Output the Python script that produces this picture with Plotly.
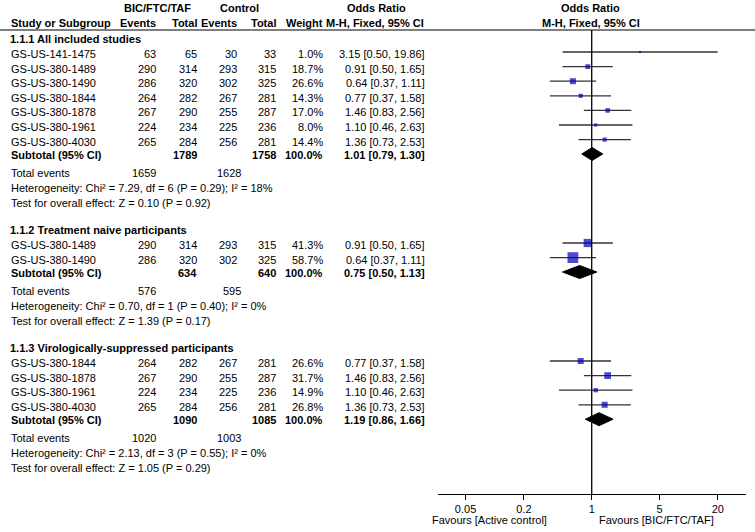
import math
import plotly.graph_objects as go

# ---------------- data ----------------
group_titles = ["1.1.1 All included studies",
                "1.1.2 Treatment naive participants",
                "1.1.3 Virologically-suppressed participants"]

g1_names = ["GS-US-141-1475", "GS-US-380-1489", "GS-US-380-1490", "GS-US-380-1844",
            "GS-US-380-1878", "GS-US-380-1961", "GS-US-380-4030"]
g1_bic_events = [63, 290, 286, 264, 267, 224, 265]
g1_bic_total = [65, 314, 320, 282, 290, 234, 284]
g1_ctl_events = [30, 293, 302, 267, 255, 225, 256]
g1_ctl_total = [33, 315, 325, 281, 287, 236, 281]
g1_weight = [1.0, 18.7, 26.6, 14.3, 17.0, 8.0, 14.4]
g1_or = [3.15, 0.91, 0.64, 0.77, 1.46, 1.10, 1.36]
g1_lo = [0.50, 0.50, 0.37, 0.37, 0.83, 0.46, 0.73]
g1_hi = [19.86, 1.65, 1.11, 1.58, 2.56, 2.63, 2.53]

g2_names = ["GS-US-380-1489", "GS-US-380-1490"]
g2_bic_events = [290, 286]
g2_bic_total = [314, 320]
g2_ctl_events = [293, 302]
g2_ctl_total = [315, 325]
g2_weight = [41.3, 58.7]
g2_or = [0.91, 0.64]
g2_lo = [0.50, 0.37]
g2_hi = [1.65, 1.11]

g3_names = ["GS-US-380-1844", "GS-US-380-1878", "GS-US-380-1961", "GS-US-380-4030"]
g3_bic_events = [264, 267, 224, 265]
g3_bic_total = [282, 290, 234, 284]
g3_ctl_events = [267, 255, 225, 256]
g3_ctl_total = [281, 287, 236, 281]
g3_weight = [26.6, 31.7, 14.9, 26.8]
g3_or = [0.77, 1.46, 1.10, 1.36]
g3_lo = [0.37, 0.83, 0.46, 0.73]
g3_hi = [1.58, 2.56, 2.63, 2.53]

sub_bic_total = [1789, 634, 1090]
sub_ctl_total = [1758, 640, 1085]
sub_or = [1.01, 0.75, 1.19]
sub_lo = [0.79, 0.50, 0.86]
sub_hi = [1.30, 1.13, 1.66]
tot_bic_events = [1659, 576, 1020]
tot_ctl_events = [1628, 595, 1003]
het_text = ["Heterogeneity: Chi² = 7.29, df = 6 (P = 0.29); I² = 18%",
            "Heterogeneity: Chi² = 0.70, df = 1 (P = 0.40); I² = 0%",
            "Heterogeneity: Chi² = 2.13, df = 3 (P = 0.55); I² = 0%"]
test_text = ["Test for overall effect: Z = 0.10 (P = 0.92)",
             "Test for overall effect: Z = 1.39 (P = 0.17)",
             "Test for overall effect: Z = 1.05 (P = 0.29)"]

tick_vals = [0.05, 0.2, 1, 5, 20]
tick_labels = ["0.05", "0.2", "1", "5", "20"]

groups = [
    dict(names=g1_names, be=g1_bic_events, bt=g1_bic_total, ce=g1_ctl_events, ct=g1_ctl_total,
         w=g1_weight, orr=g1_or, lo=g1_lo, hi=g1_hi),
    dict(names=g2_names, be=g2_bic_events, bt=g2_bic_total, ce=g2_ctl_events, ct=g2_ctl_total,
         w=g2_weight, orr=g2_or, lo=g2_lo, hi=g2_hi),
    dict(names=g3_names, be=g3_bic_events, bt=g3_bic_total, ce=g3_ctl_events, ct=g3_ctl_total,
         w=g3_weight, orr=g3_or, lo=g3_lo, hi=g3_hi),
]

# ---------------- layout constants (pixels) ----------------
W, H = 755, 532
AXIS_Y = 494
FONT = "Liberation Sans, Arial, sans-serif"
FS = 11
X_NAME, X_BE, X_BT, X_CE, X_CT, X_W, X_OR = 9, 158, 199, 239, 278, 325, 427
X_TOT_CE = 243

ann = []


def px(x):
    return x / W


def txt(x, y, s, anchor="left", bold=False):
    ann.append(dict(x=px(x), y=y, xref="paper", yref="y", text=f"<b>{s}</b>" if bold else s,
                    xanchor=anchor, yanchor="middle", showarrow=False,
                    font=dict(family=FONT, size=FS, color="#000")))


# headers
txt(157, 8, "BIC/FTC/TAF", "center", True)
txt(239, 8, "Control", "center", True)
txt(376, 8, "Odds Ratio", "center", True)
txt(590, 8, "Odds Ratio", "center", True)
txt(X_NAME, 23, "Study or Subgroup", "left", True)
txt(X_BE, 23, "Events", "right", True)
txt(X_BT, 23, "Total", "right", True)
txt(X_CE, 23, "Events", "right", True)
txt(X_CT, 23, "Total", "right", True)
txt(X_W, 23, "Weight", "right", True)
txt(426, 23, "M-H, Fixed, 95% CI", "right", True)
txt(591, 23, "M-H, Fixed, 95% CI", "center", True)

ci_x, ci_y = [], []
sq_x, sq_y, sq_s = [], [], []
diamonds = []

cur = 39.0
STEP = 14.6
for gi, g in enumerate(groups):
    txt(8, cur, group_titles[gi], "left", True)
    cur += 15
    for i, name in enumerate(g["names"]):
        y = cur
        txt(X_NAME, y, name)
        txt(X_BE, y, str(g["be"][i]), "right")
        txt(X_BT, y, str(g["bt"][i]), "right")
        txt(X_CE, y, str(g["ce"][i]), "right")
        txt(X_CT, y, str(g["ct"][i]), "right")
        txt(X_W, y, f"{g['w'][i]:.1f}%", "right")
        txt(X_OR, y, f"{g['orr'][i]:.2f} [{g['lo'][i]:.2f}, {g['hi'][i]:.2f}]", "right")
        ym = y - 2
        ci_x += [g["lo"][i], g["hi"][i], None]
        ci_y += [ym, ym, None]
        sq_x.append(g["orr"][i])
        sq_y.append(ym)
        sq_s.append(2 + 0.15 * g["w"][i])
        cur += STEP
    ys = cur - 1.2
    txt(X_NAME, ys, "Subtotal (95% CI)", "left", True)
    txt(X_BT, ys, str(sub_bic_total[gi]), "right", True)
    txt(X_CT, ys, str(sub_ctl_total[gi]), "right", True)
    txt(X_W, ys, "100.0%", "right", True)
    txt(X_OR, ys, f"{sub_or[gi]:.2f} [{sub_lo[gi]:.2f}, {sub_hi[gi]:.2f}]", "right", True)
    diamonds.append((sub_lo[gi], sub_or[gi], sub_hi[gi], ys - 1))
    yt = ys + 17.5
    txt(X_NAME, yt, "Total events")
    txt(X_BE, yt, str(tot_bic_events[gi]), "right")
    txt(X_TOT_CE, yt, str(tot_ctl_events[gi]), "right")
    txt(X_NAME, yt + 15, het_text[gi])
    txt(X_NAME, yt + 30, test_text[gi])
    cur = yt + 30 + 27.5

fig = go.Figure()

fig.add_trace(go.Scatter(x=ci_x, y=ci_y, mode="lines",
                         line=dict(color="#333333", width=1.3), hoverinfo="skip"))
fig.add_trace(go.Scatter(x=sq_x, y=sq_y, mode="markers",
                         marker=dict(symbol="square", size=sq_s, color="#0000B4",
                                     line=dict(width=0)), hoverinfo="skip"))
for lo, est, hi, y in diamonds:
    fig.add_trace(go.Scatter(x=[lo, est, hi, est, lo], y=[y, y - 6.5, y, y + 6.5, y],
                             mode="lines", fill="toself", fillcolor="#000000",
                             line=dict(color="#000000", width=1), hoverinfo="skip"))

shapes = [
    dict(type="line", xref="paper", yref="y", x0=0, x1=1, y0=30, y1=30,
         line=dict(color="#555555", width=1.6)),
    dict(type="line", xref="x", yref="y", x0=1, x1=1, y0=30, y1=AXIS_Y,
         line=dict(color="#000000", width=1.3)),
]

ann.append(dict(x=px(549), y=(H - 520) / H, xref="paper", yref="paper",
                text="Favours [Active control]", xanchor="right", yanchor="middle",
                showarrow=False, font=dict(family=FONT, size=FS, color="#000")))
ann.append(dict(x=px(597), y=(H - 520) / H, xref="paper", yref="paper",
                text="Favours [BIC/FTC/TAF]", xanchor="left", yanchor="middle",
                showarrow=False, font=dict(family=FONT, size=FS, color="#000")))

fig.update_layout(
    width=W, height=H, margin=dict(l=0, r=0, t=0, b=0),
    paper_bgcolor="white", plot_bgcolor="white", showlegend=False,
    xaxis=dict(type="log", domain=[438 / W, 746 / W],
               range=[math.log10(0.026), math.log10(39)],
               showline=True, linecolor="#000", linewidth=1,
               ticks="outside", ticklen=5, tickcolor="#000", tickwidth=1,
               tickvals=tick_vals, ticktext=tick_labels,
               tickfont=dict(family=FONT, size=FS, color="#000"),
               showgrid=False, zeroline=False, fixedrange=True),
    yaxis=dict(range=[AXIS_Y, 0], domain=[(H - AXIS_Y) / H, 1], visible=False,
               showgrid=False, zeroline=False, fixedrange=True),
    annotations=ann, shapes=shapes,
)

fig.write_html("out.html",
               config={"displayModeBar": False},
               post_script="document.body.style.margin='0';document.body.style.overflow='hidden';")
